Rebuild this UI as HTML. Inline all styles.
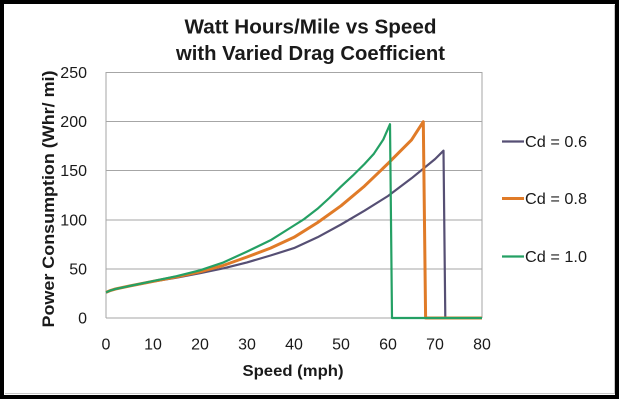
<!DOCTYPE html>
<html>
<head>
<meta charset="utf-8">
<style>
  html, body { margin: 0; padding: 0; background: #ffffff; }
  svg { display: block; }
  text { font-family: "Liberation Sans", "DejaVu Sans", sans-serif; fill: #1a1a1a; }
</style>
</head>
<body>
<svg width="620" height="400" viewBox="0 0 620 400" xmlns="http://www.w3.org/2000/svg">
  <rect x="0" y="0" width="620" height="400" fill="#ffffff"/>
  <!-- outer black frame -->
  <rect x="2" y="2" width="615" height="395" fill="none" stroke="#000" stroke-width="4"/>
  <line x1="5" y1="393.5" x2="615" y2="393.5" stroke="#c8c8c8" stroke-width="1"/>
  <line x1="614.5" y1="5" x2="614.5" y2="394" stroke="#c8c8c8" stroke-width="1"/>

  <!-- title -->
  <text x="310.5" y="33.5" font-size="20" font-weight="bold" text-anchor="middle" textLength="252" lengthAdjust="spacingAndGlyphs">Watt Hours/Mile vs Speed</text>
  <text x="310.5" y="60" font-size="20" font-weight="bold" text-anchor="middle" textLength="269" lengthAdjust="spacingAndGlyphs">with Varied Drag Coefficient</text>

  <!-- gridlines -->
  <g stroke="#a6a6a6" stroke-width="1">
    <line x1="106" y1="72.5" x2="482" y2="72.5"/>
    <line x1="106" y1="121.5" x2="482" y2="121.5"/>
    <line x1="106" y1="170.5" x2="482" y2="170.5"/>
    <line x1="106" y1="220" x2="482" y2="220"/>
    <line x1="106" y1="269" x2="482" y2="269"/>
    <line x1="106" y1="318" x2="482" y2="318"/>
    <line x1="106" y1="72" x2="106" y2="318"/>
    <line x1="482" y1="72" x2="482" y2="318"/>
  </g>

  <!-- y tick labels -->
  <g font-size="16" text-anchor="end">
    <text x="87" y="78">250</text>
    <text x="87" y="127">200</text>
    <text x="87" y="176">150</text>
    <text x="87" y="225.5">100</text>
    <text x="87" y="274.5">50</text>
    <text x="87" y="323.5">0</text>
  </g>

  <!-- x tick labels -->
  <g font-size="16" text-anchor="middle">
    <text x="106" y="349.5">0</text>
    <text x="153" y="349.5">10</text>
    <text x="200" y="349.5">20</text>
    <text x="247" y="349.5">30</text>
    <text x="294" y="349.5">40</text>
    <text x="341" y="349.5">50</text>
    <text x="388" y="349.5">60</text>
    <text x="435" y="349.5">70</text>
    <text x="482" y="349.5">80</text>
  </g>

  <!-- axis titles -->
  <text x="293" y="376" font-size="16" font-weight="bold" text-anchor="middle" textLength="101" lengthAdjust="spacingAndGlyphs">Speed (mph)</text>
  <text transform="translate(54,199) rotate(-90)" x="0" y="0" font-size="17" font-weight="bold" text-anchor="middle" textLength="257" lengthAdjust="spacingAndGlyphs">Power Consumption (Whr/ mi)</text>

  <!-- series Cd = 0.6 (purple) -->
  <polyline fill="none" stroke="#564f74" stroke-width="2.2" stroke-linejoin="round"
    points="106,292.4 110.7,290.4 115.4,289 129.5,286 153,281.6 176.5,277.7 200,273.2 223.5,268.3 247,262.4 270.5,255.5 294,248.1 317.5,237.3 341,224.5 364.5,210.7 388,196 411.5,178.3 435,159.1 443.5,150.7 445.3,318 482,318"/>

  <!-- series Cd = 0.8 (orange) -->
  <polyline fill="none" stroke="#e07b28" stroke-width="3" stroke-linejoin="round"
    points="106,292.4 110.7,290.4 115.4,289 129.5,286 153,281.4 176.5,276.9 200,271.8 223.5,265.4 247,257 270.5,248.1 294,237.3 317.5,222.6 341,205.8 364.5,186.1 388,163.5 399.75,151.7 411.5,139.9 423.3,121.7 425.6,318 482,318"/>

  <!-- series Cd = 1.0 (green) -->
  <polyline fill="none" stroke="#24a064" stroke-width="2.2" stroke-linejoin="round"
    points="106,292.4 110.7,290.4 115.4,289 129.5,286 153,281.1 176.5,276.2 200,270.3 223.5,262.4 247,251.6 270.5,240.3 294,225.5 303.4,219.6 317.5,208.8 329.3,198 341,186.6 352.8,175.6 364.5,164 373.9,153.7 383.3,139.5 390,124.2 392,318 482,318"/>

  <!-- legend -->
  <line x1="502" y1="141.5" x2="524" y2="141.5" stroke="#564f74" stroke-width="2.2"/>
  <text x="525" y="147" font-size="16" textLength="62" lengthAdjust="spacingAndGlyphs">Cd = 0.6</text>
  <line x1="502" y1="198.5" x2="524" y2="198.5" stroke="#e07b28" stroke-width="3"/>
  <text x="525" y="204" font-size="16" textLength="62" lengthAdjust="spacingAndGlyphs">Cd = 0.8</text>
  <line x1="502" y1="256.5" x2="524" y2="256.5" stroke="#24a064" stroke-width="2.2"/>
  <text x="525" y="262" font-size="16" textLength="62" lengthAdjust="spacingAndGlyphs">Cd = 1.0</text>
</svg>
</body>
</html>
